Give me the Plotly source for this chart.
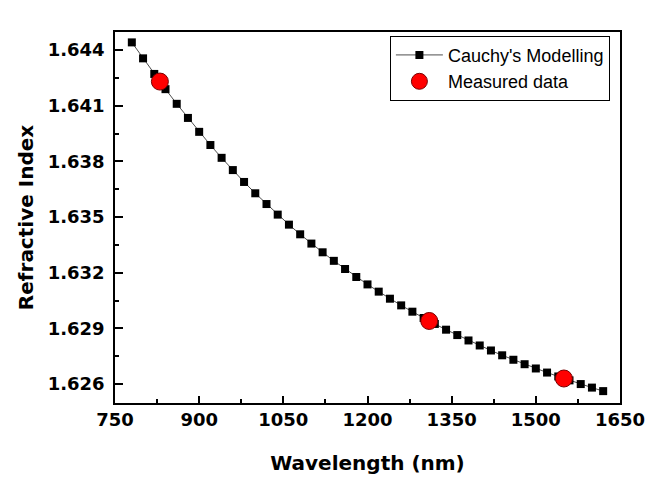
import plotly.graph_objects as go

# Cauchy's modelling (wavelength in nm, refractive index)
model_wavelength = [780, 800, 820, 840, 860, 880, 900, 920, 940, 960, 980,
                    1000, 1020, 1040, 1060, 1080, 1100, 1120, 1140, 1160, 1180,
                    1200, 1220, 1240, 1260, 1280, 1300, 1320, 1340, 1360, 1380,
                    1400, 1420, 1440, 1460, 1480, 1500, 1520, 1540, 1560, 1580,
                    1600, 1620]
model_index = [1.64441, 1.64355, 1.64271, 1.64189, 1.64110, 1.64034, 1.63959,
               1.63888, 1.63819, 1.63753, 1.63689, 1.63628, 1.63570, 1.63513,
               1.63459, 1.63407, 1.63357, 1.63310, 1.63264, 1.63220, 1.63177,
               1.63137, 1.63098, 1.63060, 1.63024, 1.62990, 1.62956, 1.62924,
               1.62893, 1.62864, 1.62835, 1.62808, 1.62781, 1.62755, 1.62731,
               1.62707, 1.62684, 1.62662, 1.62641, 1.62620, 1.62600, 1.62581,
               1.62562]

# Measured data
measured_wavelength = [830, 1310, 1550]
measured_index = [1.6423, 1.6294, 1.6263]

x_ticks = [750, 900, 1050, 1200, 1350, 1500, 1650]
y_ticks = [1.626, 1.629, 1.632, 1.635, 1.638, 1.641, 1.644]

fig = go.Figure()
fig.add_trace(go.Scatter(
    x=model_wavelength, y=model_index, mode="lines+markers",
    name="Cauchy's Modelling",
    line=dict(color="black", width=0.7),
    marker=dict(symbol="square", size=8, color="black"),
))
fig.add_trace(go.Scatter(
    x=measured_wavelength, y=measured_index, mode="markers",
    name="Measured data",
    marker=dict(symbol="circle", size=17, color="#ff0000",
                line=dict(color="#7a0000", width=1)),
))

tick_font = dict(family="DejaVu Sans", size=18, color="black", weight="bold")
title_font = dict(family="DejaVu Sans", size=20, color="black", weight="bold")

# page body has an 8px default margin, so the figure is sized to fit inside
fig.update_layout(
    width=647, height=473,
    margin=dict(l=107, r=35, t=24, b=78, autoexpand=False),
    paper_bgcolor="white", plot_bgcolor="white",
    showlegend=True,
    legend=dict(
        x=0.980, y=0.990, xanchor="right", yanchor="top",
        bordercolor="black", borderwidth=1, bgcolor="white",
        font=dict(family="Liberation Sans", size=18, color="black"),
        tracegroupgap=0, itemwidth=47,
    ),
    xaxis=dict(
        range=[750, 1650], tickvals=x_ticks, ticktext=[str(v) for v in x_ticks],
        ticks="inside", ticklen=7, tickwidth=1.5, tickcolor="black",
        minor=dict(ticks="inside", ticklen=4, tickwidth=1.5, dtick=75,
                   tick0=750, tickcolor="black"),
        showline=True, linecolor="black", linewidth=1.5, mirror=True,
        showgrid=False, zeroline=False,
        tickfont=tick_font, ticklabelstandoff=0,
        title=dict(text="Wavelength (nm)", font=title_font, standoff=27),
    ),
    yaxis=dict(
        range=[1.62498, 1.64497], tickvals=y_ticks,
        ticktext=[f"{v:.3f}" for v in y_ticks],
        ticks="inside", ticklen=8, tickwidth=1.5, tickcolor="black",
        minor=dict(ticks="inside", ticklen=4, tickwidth=1.5, dtick=0.0015,
                   tick0=1.626, tickcolor="black"),
        showline=True, linecolor="black", linewidth=1.5, mirror=True,
        showgrid=False, zeroline=False,
        tickfont=tick_font, ticklabelstandoff=5,
        title=dict(text="Refractive Index", font=title_font, standoff=9),
    ),
)

fig.write_html("out.html")
